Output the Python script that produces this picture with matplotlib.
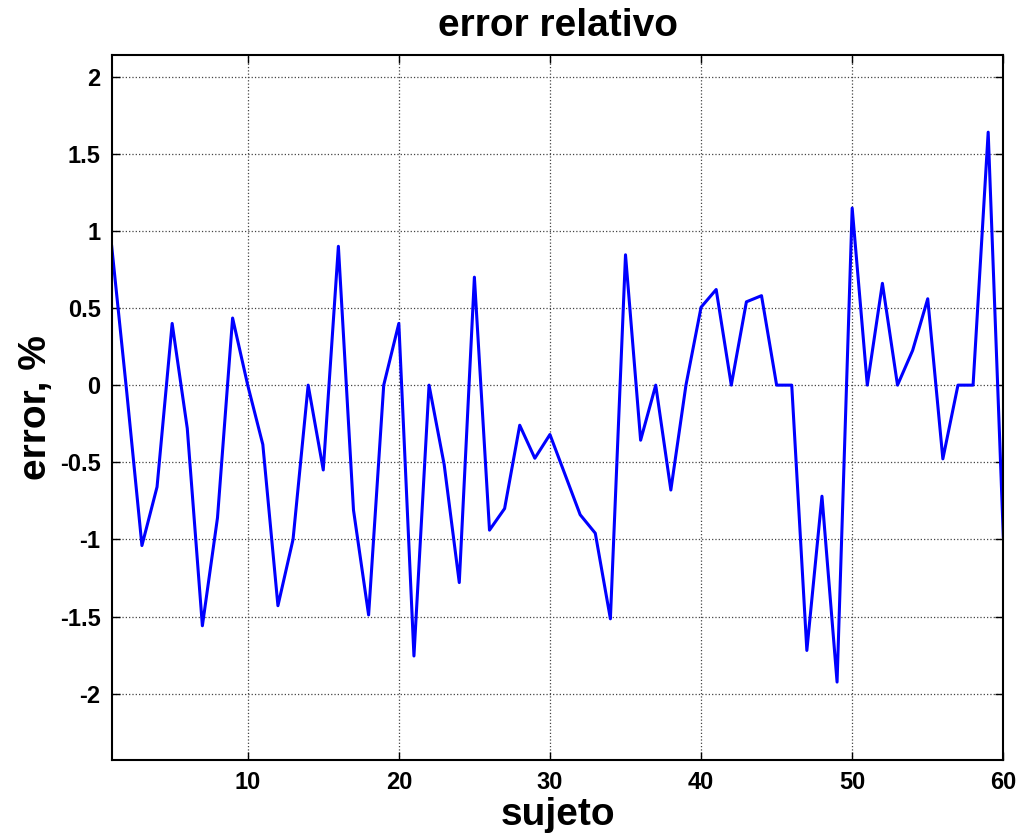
"""
error relativo por sujeto
"""
import matplotlib
matplotlib.use("Agg")
import matplotlib.pyplot as plt

# ------------------------------------------------------
# datos
sujeto = list(range(1, 61))
error = [0.90, -0.05, -1.04, -0.66, 0.40, -0.28, -1.56, -0.86, 0.435, 0.0,
         -0.385, -1.43, -1.00, 0.0, -0.55, 0.90, -0.81, -1.49, 0.0, 0.40,
         -1.756, 0.0, -0.515, -1.28, 0.70, -0.94, -0.80, -0.26, -0.474, -0.32,
         -0.58, -0.84, -0.96, -1.515, 0.845, -0.357, 0.0, -0.68, 0.0, 0.505,
         0.62, 0.0, 0.54, 0.58, 0.0, 0.0, -1.72, -0.72, -1.925, 1.148,
         0.0, 0.66, 0.0, 0.225, 0.56, -0.478, 0.0, 0.0, 1.64, -0.98]
x_ticks = [10, 20, 30, 40, 50, 60]
y_ticks = [-2, -1.5, -1, -0.5, 0, 0.5, 1, 1.5, 2]
y_labels = ["-2", "-1.5", "-1", "-0.5", "0", "0.5", "1", "1.5", "2"]

plt.rcParams['font.family'] = ['Liberation Sans', 'DejaVu Sans']
plt.rcParams['font.weight'] = 'bold'

fig = plt.figure(figsize=(10.22, 8.39), dpi=100)
ax = fig.add_axes([0.1093, 0.0942, 0.8724, 0.8402])

ax.plot(sujeto, error, color='#0000ff', linewidth=2.2)

ax.set_xlim(1, 60)
ax.set_ylim(-2.43, 2.14)
ax.set_xticks(x_ticks)
ax.set_yticks(y_ticks)
ax.set_yticklabels(y_labels)

ax.grid(True, linestyle=':', color='#444444', linewidth=0.9)
ax.tick_params(direction='in', length=6, width=1, labelsize=17, pad=8,
               top=True, right=True)
for lbl in ax.get_xticklabels() + ax.get_yticklabels():
    lbl.set_fontweight('bold')
for sp in ax.spines.values():
    sp.set_linewidth(1.5)

ax.set_title('error relativo', fontsize=28, fontweight='bold', pad=14)
ax.set_xlabel('sujeto', fontsize=28, fontweight='bold', labelpad=2)
ax.set_ylabel('error, %', fontsize=28, fontweight='bold', labelpad=4)

fig.savefig('out.png', dpi=100)
